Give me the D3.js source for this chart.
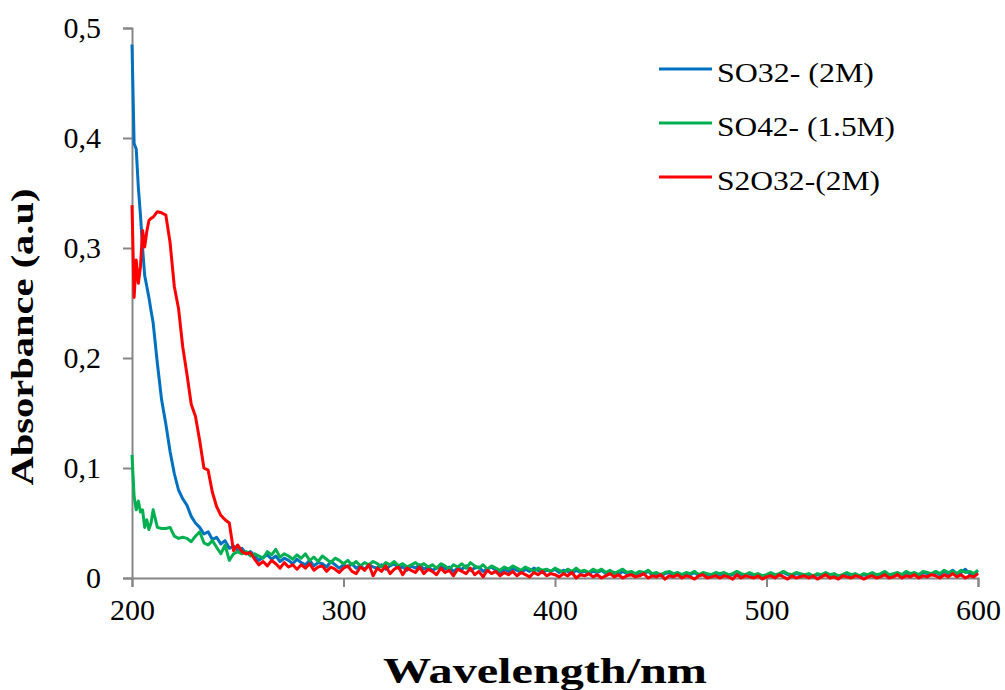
<!DOCTYPE html>
<html>
  <head>
    <meta http-equiv="Content-type" content="text/html; charset=utf-8">
    <title>Absorbance spectra</title>
    <script src="https://d3js.org/d3.v7.min.js"></script>
    <style>
      body { margin: 0; background: #fff; }
    </style>
  </head>
  <body>
    <div id="chart"></div>
    <script type="text/javascript">
      // wavelengths in nm: every 1 nm up to 209, then every 2 nm up to 600
      var wavelengths = d3.range(200, 210, 1).concat(d3.range(210, 601, 2));

      var so3 = [
        0.485, 0.395, 0.39, 0.355, 0.33, 0.30, 0.275, 0.265, 0.255, 0.243,
        0.232, 0.195, 0.162, 0.14, 0.115,
        0.095, 0.08, 0.072, 0.066, 0.056, 0.05, 0.046, 0.04, 0.042, 0.035,
        0.037, 0.031, 0.034, 0.027, 0.029, 0.025, 0.027, 0.022, 0.024, 0.02,
        0.016, 0.019, 0.021, 0.017, 0.02, 0.015, 0.018, 0.016, 0.013, 0.017,
        0.014, 0.012, 0.016, 0.011, 0.014, 0.013, 0.01, 0.015, 0.012, 0.009,
        0.012, 0.01, 0.013, 0.009, 0.011, 0.008, 0.012, 0.01, 0.009, 0.012,
        0.008, 0.011, 0.013, 0.009, 0.01, 0.007, 0.011, 0.009, 0.012, 0.008,
        0.01, 0.007, 0.009, 0.011, 0.008, 0.01, 0.006, 0.009, 0.008, 0.011,
        0.007, 0.009, 0.01, 0.006, 0.008, 0.01, 0.007, 0.005, 0.008, 0.006,
        0.009, 0.007, 0.005, 0.008, 0.006, 0.009, 0.007, 0.005, 0.007, 0.006,
        0.008, 0.005, 0.007, 0.006, 0.004, 0.007, 0.005, 0.006, 0.004, 0.006,
        0.005, 0.007, 0.004, 0.006, 0.005, 0.003, 0.006, 0.004, 0.005, 0.003,
        0.005, 0.004, 0.006, 0.003, 0.004, 0.002, 0.004, 0.005, 0.003, 0.004,
        0.002, 0.004, 0.003, 0.005, 0.002, 0.004, 0.003, 0.002, 0.004, 0.003,
        0.004, 0.002, 0.003, 0.005, 0.003, 0.002, 0.004, 0.002, 0.003, 0.001,
        0.002, 0.004, 0.002, 0.003, 0.005, 0.003, 0.002, 0.004, 0.003, 0.002,
        0.003, 0.001, 0.003, 0.002, 0.004, 0.002, 0.003, 0.001, 0.002, 0.004,
        0.002, 0.003, 0.001, 0.003, 0.002, 0.004, 0.002, 0.003, 0.005, 0.002,
        0.003, 0.004, 0.002, 0.005, 0.003, 0.004, 0.002, 0.005, 0.004, 0.003,
        0.005, 0.003, 0.006, 0.004, 0.007, 0.004, 0.005, 0.008, 0.004, 0.003,
        0.005
      ];

      var so4 = [
        0.112, 0.074, 0.062, 0.07, 0.06, 0.062, 0.046, 0.053, 0.044, 0.05,
        0.062, 0.046, 0.045, 0.045, 0.046,
        0.038, 0.036, 0.037, 0.036, 0.033, 0.038, 0.042, 0.032, 0.03, 0.034,
        0.028, 0.022, 0.03, 0.016, 0.022, 0.024, 0.022, 0.024, 0.02, 0.022,
        0.02, 0.018, 0.024, 0.021, 0.026, 0.019, 0.022, 0.02, 0.017, 0.021,
        0.018, 0.022, 0.016, 0.019, 0.015, 0.02, 0.017, 0.014, 0.018, 0.016,
        0.013, 0.016, 0.012, 0.015, 0.011, 0.014, 0.012, 0.015, 0.013, 0.01,
        0.014, 0.012, 0.015, 0.011, 0.013, 0.01, 0.012, 0.014, 0.011, 0.013,
        0.01, 0.012, 0.009, 0.013, 0.011, 0.008, 0.012, 0.01, 0.013, 0.009,
        0.014, 0.011, 0.009, 0.012, 0.008, 0.011, 0.009, 0.007, 0.01, 0.008,
        0.011, 0.009, 0.007, 0.01, 0.008, 0.006, 0.009, 0.007, 0.008, 0.006,
        0.009, 0.007, 0.005, 0.008, 0.006, 0.009, 0.006, 0.007, 0.005, 0.008,
        0.006, 0.008, 0.005, 0.007, 0.004, 0.006, 0.008, 0.005, 0.006, 0.004,
        0.006, 0.005, 0.007, 0.004, 0.005, 0.003, 0.005, 0.006, 0.004, 0.005,
        0.003, 0.005, 0.004, 0.006, 0.003, 0.005, 0.004, 0.003, 0.005, 0.004,
        0.005, 0.003, 0.004, 0.006, 0.004, 0.003, 0.005, 0.003, 0.004, 0.002,
        0.003, 0.005, 0.003, 0.004, 0.006, 0.004, 0.003, 0.005, 0.004, 0.003,
        0.004, 0.002, 0.004, 0.003, 0.005, 0.003, 0.004, 0.002, 0.003, 0.005,
        0.003, 0.004, 0.002, 0.004, 0.003, 0.005, 0.003, 0.004, 0.006, 0.003,
        0.004, 0.005, 0.003, 0.006, 0.004, 0.005, 0.003, 0.006, 0.005, 0.004,
        0.006, 0.004, 0.007, 0.005, 0.006, 0.004, 0.007, 0.005, 0.006, 0.004,
        0.007
      ];

      var s2o3 = [
        0.339, 0.255, 0.289, 0.268, 0.283, 0.316, 0.301, 0.315, 0.325, 0.327,
        0.328, 0.333, 0.332, 0.33, 0.305,
        0.265, 0.245, 0.21, 0.185, 0.158, 0.147, 0.125, 0.10, 0.098, 0.078,
        0.065, 0.057, 0.053, 0.05, 0.025, 0.03, 0.024, 0.022, 0.023, 0.017,
        0.012, 0.015, 0.011, 0.016, 0.013, 0.009, 0.014, 0.01, 0.012, 0.008,
        0.012, 0.009, 0.013, 0.007, 0.01, 0.011, 0.006, 0.01, 0.008, 0.005,
        0.009, 0.011, 0.006, 0.004, 0.01, 0.007, 0.012, 0.002, 0.009, 0.006,
        0.011, 0.004, 0.008, 0.01, 0.003, 0.009, 0.007, 0.005, 0.01, 0.004,
        0.008, 0.006, 0.003, 0.009, 0.005, 0.007, 0.002, 0.008, 0.006, 0.004,
        0.009, 0.003, 0.006, 0.001, 0.007, 0.004, 0.006, 0.002, 0.005, 0.003,
        0.006, 0.002, 0.005, 0.003, 0.001, 0.005, 0.003, 0.006, 0.002, 0.004,
        0.003, 0.001, 0.004, 0.002, 0.005, 0.0, 0.003, 0.002, 0.004, 0.001,
        0.003, 0.0, 0.002, 0.004, 0.001, 0.003, 0.0, 0.002, 0.003, 0.001,
        0.002, 0.004, 0.0, 0.002, 0.001, 0.003, -0.001, 0.002, 0.001, 0.003,
        0.0, 0.002, 0.001, -0.001, 0.002, 0.003, 0.0, 0.001, 0.002, 0.0,
        0.002, 0.001, -0.001, 0.003, 0.0, 0.002, 0.001, 0.0, 0.002, -0.001,
        0.001, 0.002, 0.0, 0.003, 0.001, -0.001, 0.002, 0.0, 0.001, 0.002,
        0.0, 0.002, -0.001, 0.001, 0.003, 0.0, 0.001, -0.001, 0.002, 0.001,
        0.0, 0.002, 0.001, -0.001, 0.001, 0.002, 0.0, 0.001, 0.003, 0.0,
        0.001, 0.003, 0.0, 0.002, 0.001, 0.003, 0.0, 0.002, 0.001, 0.003,
        0.002, 0.0, 0.003, 0.001, 0.004, 0.001, 0.003, 0.0, 0.002, 0.001,
        0.004
      ];

      var seriesNames = ['SO32- (2M)', 'SO42- (1.5M)', 'S2O32-(2M)'];
      var seriesColors = ['#0070C0', '#00B050', '#FF0000'];
      var seriesValues = [so3, so4, s2o3];

      var xTicks = [200, 300, 400, 500, 600];
      var yTicks = [0, 0.1, 0.2, 0.3, 0.4, 0.5];

      var width = 1005, height = 690;
      var axisColor = '#868686';
      var font = '"Liberation Serif", "Times New Roman", serif';

      var svg = d3.select('#chart').append('svg')
        .attr('width', width)
        .attr('height', height);

      var x = d3.scaleLinear().domain([200, 600]).range([132, 978]);
      var y = d3.scaleLinear().domain([0, 0.5]).range([578, 28]);

      var yAxis = svg.append('g')
        .attr('transform', 'translate(132,0)')
        .call(d3.axisLeft(y).tickValues(yTicks).tickSize(9).tickPadding(22)
          .tickFormat(function(d) { return d === 0 ? '0' : d3.format('.1f')(d).replace('.', ','); }));

      var xAxis = svg.append('g')
        .attr('transform', 'translate(0,578)')
        .call(d3.axisBottom(x).tickValues(xTicks).tickSize(9).tickPadding(12)
          .tickFormat(d3.format('d')));

      [xAxis, yAxis].forEach(function(g) {
        g.select('.domain').attr('stroke', axisColor).attr('stroke-width', 2);
        g.selectAll('.tick line').attr('stroke', axisColor).attr('stroke-width', 2);
        g.selectAll('.tick text')
          .attr('fill', '#000')
          .style('font-family', font)
          .style('font-size', '30px');
      });

      var line = d3.line()
        .x(function(d) { return x(d[0]); })
        .y(function(d) { return y(d[1]); });

      seriesValues.forEach(function(vals, i) {
        var pts = wavelengths.map(function(w, j) { return [w, vals[j]]; });
        svg.append('path')
          .datum(pts)
          .attr('fill', 'none')
          .attr('stroke', seriesColors[i])
          .attr('stroke-width', 3)
          .attr('stroke-linejoin', 'round')
          .attr('d', line);
      });

      // legend (text is a bit wider than plain Times in the original)
      var legendWidths = [157, 178, 163];
      var legend = svg.append('g');
      seriesNames.forEach(function(name, i) {
        var ly = 69 + i * 54;
        legend.append('line')
          .attr('x1', 659).attr('x2', 712)
          .attr('y1', ly).attr('y2', ly)
          .attr('stroke', seriesColors[i])
          .attr('stroke-width', 3);
        legend.append('text')
          .attr('x', 717).attr('y', ly + 12.5)
          .attr('textLength', legendWidths[i])
          .attr('lengthAdjust', 'spacingAndGlyphs')
          .style('font-family', font)
          .style('font-size', '28px')
          .text(name);
      });

      // axis titles
      svg.append('text')
        .attr('x', 545).attr('y', 683)
        .attr('text-anchor', 'middle')
        .attr('textLength', 324)
        .attr('lengthAdjust', 'spacingAndGlyphs')
        .style('font-family', font)
        .style('font-size', '35px')
        .style('font-weight', 'bold')
        .text('Wavelength/nm');

      svg.append('text')
        .attr('transform', 'translate(33,337) rotate(-90)')
        .attr('text-anchor', 'middle')
        .attr('textLength', 297)
        .attr('lengthAdjust', 'spacingAndGlyphs')
        .style('font-family', font)
        .style('font-size', '32px')
        .style('font-weight', 'bold')
        .text('Absorbance (a.u)');
    </script>
  </body>
</html>
